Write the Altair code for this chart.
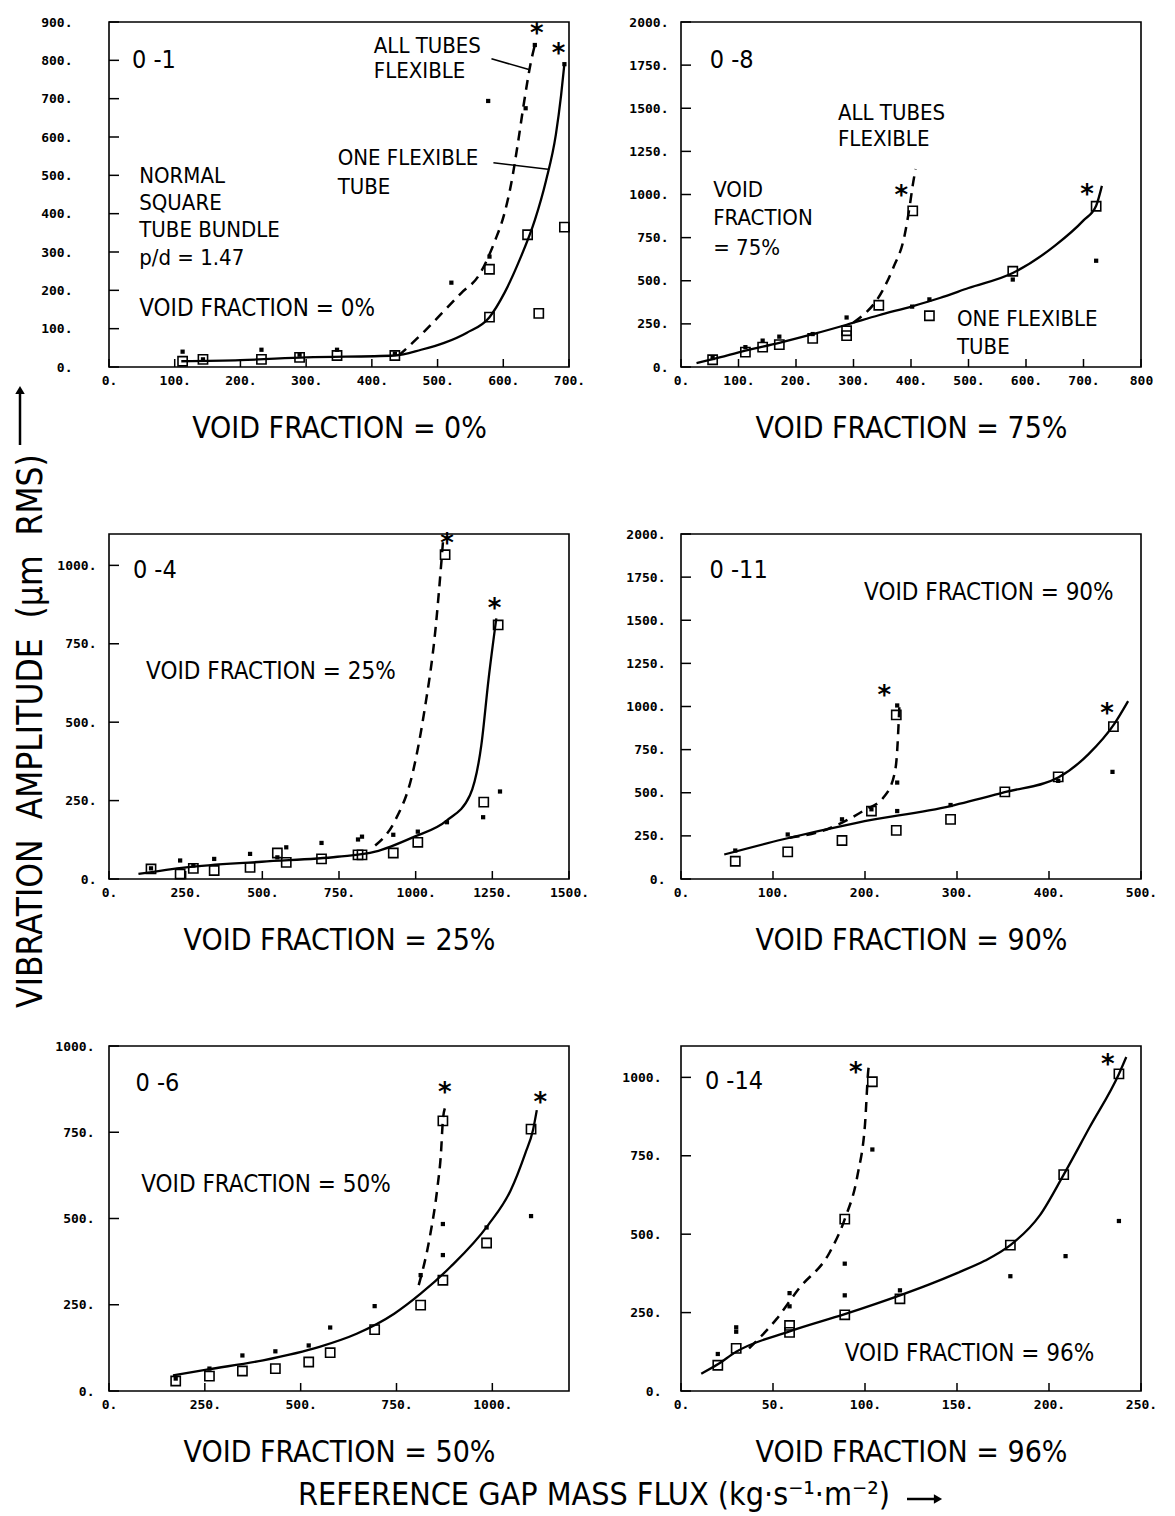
import altair as alt
import pandas as pd

NARROW = "Liberation Sans Narrow, DejaVu Sans Condensed, sans-serif"
MONO = "DejaVu Sans Mono"

Y_TITLE = "VIBRATION\u00a0\u00a0AMPLITUDE\u00a0\u00a0(µm\u00a0\u00a0RMS)"
X_TITLE = "REFERENCE GAP MASS FLUX (kg·s⁻¹·m⁻²)"

# ---------------- Panel 1 : 0-1, void fraction 0 % ----------------
P1_TITLE = "VOID FRACTION = 0%"
P1_XDOM = [0, 700]
P1_YDOM = [0, 900]
P1_XTICKS = [0, 100, 200, 300, 400, 500, 600, 700]
P1_YTICKS = [0, 100, 200, 300, 400, 500, 600, 700, 800, 900]
P1_SQ_X = [112, 143, 232, 290, 347, 435, 579, 579, 637, 654, 693]
P1_SQ_Y = [15, 20, 20, 25, 30, 30, 130, 255, 345, 140, 365]
P1_DOT_X = [112, 143, 232, 290, 347, 435, 521, 577, 579, 634, 648, 693]
P1_DOT_Y = [40, 20, 45, 32, 45, 35, 220, 694, 288, 675, 840, 790]
P1_SOLID_X = [110, 200, 300, 435, 475, 510, 544, 579, 602, 625, 648, 665, 680, 688, 693]
P1_SOLID_Y = [15, 18, 25, 30, 45, 63, 89, 130, 194, 280, 383, 486, 606, 709, 791]
P1_DASH_X = [441, 480, 507, 536, 562, 588, 601, 612, 622, 631, 642, 648]
P1_DASH_Y = [30, 93, 141, 193, 237, 332, 396, 478, 581, 684, 795, 840]
P1_STAR_X = [651, 684]
P1_STAR_Y = [885, 831]
P1_TEXT = ["0 -1", "ALL TUBES", "FLEXIBLE", "ONE FLEXIBLE", "TUBE", "NORMAL",
           "SQUARE", "TUBE BUNDLE", "p/d = 1.47", "VOID FRACTION = 0%"]
P1_TEXT_X = [35, 403, 403, 348, 348, 46, 46, 46, 46, 46]
P1_TEXT_Y = [800, 838, 771, 546, 469, 499, 428, 357, 285, 152]
P1_TEXT_S = [25, 22, 22, 22, 22, 22, 22, 22, 22, 24]
P1_LEAD_X = [582, 585]
P1_LEAD_Y = [804, 533]
P1_LEAD_X2 = [639, 668]
P1_LEAD_Y2 = [776, 516]

# ---------------- Panel 2 : 0-8, void fraction 75 % ----------------
P2_TITLE = "VOID FRACTION = 75%"
P2_XDOM = [0, 800]
P2_YDOM = [0, 2000]
P2_XTICKS = [0, 100, 200, 300, 400, 500, 600, 700, 800]
P2_YTICKS = [0, 250, 500, 750, 1000, 1250, 1500, 1750, 2000]
P2_SQ_X = [55, 112, 142, 171, 229, 288, 288, 344, 403, 432, 577, 722]
P2_SQ_Y = [42, 86, 115, 130, 166, 182, 210, 358, 905, 297, 555, 932]
P2_DOT_X = [55, 112, 142, 171, 229, 288, 402, 432, 577, 722]
P2_DOT_Y = [52, 115, 153, 176, 191, 287, 350, 392, 507, 616]
P2_SOLID_X = [27, 55, 112, 171, 229, 288, 344, 402, 450, 500, 577, 651, 700, 722, 732]
P2_SOLID_Y = [23, 45, 95, 140, 190, 245, 300, 352, 400, 458, 545, 705, 850, 935, 1050]
P2_DASH_X = [300, 350, 369, 389, 398, 403, 408]
P2_DASH_Y = [258, 440, 574, 765, 938, 1053, 1148]
P2_STAR_X = [383, 706]
P2_STAR_Y = [1024, 1034]
P2_TEXT = ["0 -8", "ALL TUBES", "FLEXIBLE", "VOID", "FRACTION", "= 75%",
           "ONE FLEXIBLE", "TUBE"]
P2_TEXT_X = [50, 273, 273, 56, 56, 56, 480, 480]
P2_TEXT_Y = [1780, 1474, 1321, 1024, 861, 689, 278, 115]
P2_TEXT_S = [25, 22, 22, 22, 22, 22, 22, 22]

# ---------------- Panel 3 : 0-4, void fraction 25 % ----------------
P3_TITLE = "VOID FRACTION = 25%"
P3_XDOM = [0, 1500]
P3_YDOM = [0, 1100]
P3_XTICKS = [0, 250, 500, 750, 1000, 1250, 1500]
P3_YTICKS = [0, 250, 500, 750, 1000]
P3_SQ_X = [137, 232, 275, 343, 460, 549, 578, 693, 812, 825, 927, 1007, 1222, 1269, 1096]
P3_SQ_Y = [32, 16, 34, 27, 37, 83, 53, 64, 77, 77, 83, 117, 245, 810, 1034]
P3_DOT_X = [137, 232, 275, 343, 460, 549, 578, 693, 812, 825, 927, 1007, 1102, 1220, 1275]
P3_DOT_Y = [34, 59, 43, 64, 80, 69, 101, 115, 126, 135, 141, 151, 181, 197, 279]
P3_SOLID_X = [96, 251, 498, 745, 868, 991, 1102, 1177, 1214, 1238, 1263]
P3_SOLID_Y = [16, 37, 55, 71, 87, 133, 187, 267, 426, 640, 831]
P3_DASH_X = [868, 930, 991, 1028, 1065, 1084, 1090]
P3_DASH_Y = [107, 181, 341, 533, 800, 1013, 1087]
P3_STAR_X = [1102, 1257]
P3_STAR_Y = [1087, 880]
P3_TEXT = ["0 -4", "VOID FRACTION = 25%"]
P3_TEXT_X = [78, 121]
P3_TEXT_Y = [986, 661]
P3_TEXT_S = [25, 24]

# ---------------- Panel 4 : 0-11, void fraction 90 % ----------------
P4_TITLE = "VOID FRACTION = 90%"
P4_XDOM = [0, 500]
P4_YDOM = [0, 2000]
P4_XTICKS = [0, 100, 200, 300, 400, 500]
P4_YTICKS = [0, 250, 500, 750, 1000, 1250, 1500, 1750, 2000]
P4_SQ_X = [59, 116, 175, 207, 234, 234, 293, 352, 410, 470]
P4_SQ_Y = [103, 157, 223, 394, 282, 951, 346, 505, 592, 883]
P4_DOT_X = [59, 116, 175, 207, 235, 235, 235, 293, 410, 469]
P4_DOT_Y = [165, 258, 346, 404, 559, 394, 1006, 429, 569, 621]
P4_SOLID_X = [47, 110, 191, 293, 353, 410, 443, 471, 486]
P4_SOLID_Y = [142, 229, 326, 423, 505, 588, 724, 899, 1031]
P4_DASH_X = [118, 151, 171, 199, 220, 232, 235, 236.5, 237.5]
P4_DASH_Y = [239, 274, 316, 398, 472, 608, 744, 899, 1016]
P4_STAR_X = [221, 463]
P4_STAR_Y = [1097, 990]
P4_TEXT = ["0 -11", "VOID FRACTION = 90%"]
P4_TEXT_X = [31, 199]
P4_TEXT_Y = [1792, 1656]
P4_TEXT_S = [25, 24]

# ---------------- Panel 5 : 0-6, void fraction 50 % ----------------
P5_TITLE = "VOID FRACTION = 50%"
P5_XDOM = [0, 1200]
P5_YDOM = [0, 1000]
P5_XTICKS = [0, 250, 500, 750, 1000]
P5_YTICKS = [0, 250, 500, 750, 1000]
P5_SQ_X = [174, 262, 348, 434, 521, 577, 693, 813, 871, 871, 985, 1101]
P5_SQ_Y = [29, 43, 58, 65, 84, 111, 178, 249, 321, 783, 429, 759]
P5_DOT_X = [174, 262, 348, 434, 521, 577, 693, 813, 871, 871, 985, 1101]
P5_DOT_Y = [36, 65, 103, 115, 132, 184, 246, 336, 394, 484, 474, 507]
P5_SOLID_X = [167, 255, 402, 549, 646, 744, 813, 891, 989, 1048, 1086, 1106, 1116]
P5_SOLID_Y = [45, 62, 89, 128, 166, 224, 282, 360, 481, 582, 689, 756, 814]
P5_DASH_X = [808, 837, 857, 866, 871, 876]
P5_DASH_Y = [307, 447, 592, 689, 785, 819]
P5_STAR_X = [876, 1125]
P5_STAR_Y = [882, 853]
P5_TEXT = ["0 -6", "VOID FRACTION = 50%"]
P5_TEXT_X = [69, 84]
P5_TEXT_Y = [892, 597]
P5_TEXT_S = [25, 24]

# ---------------- Panel 6 : 0-14, void fraction 96 % ----------------
P6_TITLE = "VOID FRACTION = 96%"
P6_XDOM = [0, 250]
P6_YDOM = [0, 1100]
P6_XTICKS = [0, 50, 100, 150, 200, 250]
P6_YTICKS = [0, 250, 500, 750, 1000]
P6_SQ_X = [20, 30, 59, 59, 89, 89, 104, 119, 179, 208, 238]
P6_SQ_Y = [82, 136, 187, 209, 243, 548, 986, 294, 465, 690, 1011]
P6_DOT_X = [20, 30, 30, 59, 59, 89, 89, 104, 119, 179, 209, 238]
P6_DOT_Y = [118, 189, 203, 270, 312, 305, 406, 770, 321, 366, 430, 542]
P6_SOLID_X = [11, 20, 30, 59, 89, 119, 135, 150, 165, 179, 195, 208, 222, 238, 242]
P6_SOLID_Y = [55, 85, 125, 190, 245, 305, 340, 376, 415, 465, 560, 690, 840, 1011, 1065]
P6_DASH_X = [37, 52, 64, 81, 89, 96, 100, 102, 103]
P6_DASH_Y = [136, 230, 326, 444, 548, 690, 850, 1032, 1048]
P6_STAR_X = [95, 232]
P6_STAR_Y = [1034, 1059]
P6_TEXT = ["0 -14", "VOID FRACTION = 96%"]
P6_TEXT_X = [13, 89]
P6_TEXT_Y = [989, 118]
P6_TEXT_S = [25, 24]

# ---------------- layout (pixels) ----------------
PW, PH = 460, 345          # plot area of every panel
COL_GAP, ROW_GAP = 112, 167
COL1_LEFT, ROW1_TOP = 107, 20
ROW2_TOP = ROW1_TOP + PH + ROW_GAP
ROW3_TOP = ROW2_TOP + PH + ROW_GAP


def df_xy(xs, ys):
    return pd.DataFrame({"x": xs, "y": ys})


def build_panel(title, xdom, ydom, xticks, yticks, sqx, sqy, dotx, doty,
                solx, soly, dashx, dashy, starx, stary, tt, tx, ty, ts,
                ypad, lead=None, extra=None, xlabel_expr="datum.value + '.'"):
    w, h = PW, PH
    xs = alt.Scale(domain=xdom, nice=False, zero=False)
    ys = alt.Scale(domain=ydom, nice=False, zero=False)
    xaxis = alt.Axis(values=xticks, labelExpr=xlabel_expr, grid=False,
                     ticks=False, domain=False, labelFont=MONO, labelFontSize=13,
                     labelFontWeight="bold", labelColor="black", labelPadding=7,
                     labelFlush=False, labelOverlap=False,
                     title=title, titleFont=NARROW, titleFontSize=30,
                     titleFontWeight="normal", titleColor="black", titlePadding=26)
    yaxis = alt.Axis(values=yticks, labelExpr="datum.value + '.'", grid=False,
                     ticks=False, domain=False, labelFont=MONO, labelFontSize=13,
                     labelFontWeight="bold", labelColor="black", labelPadding=ypad,
                     labelFlush=False, labelOverlap=False, title="")
    X = alt.X("x:Q", scale=xs, axis=xaxis)
    Y = alt.Y("y:Q", scale=ys, axis=yaxis)

    layers = []
    layers.append(alt.Chart(pd.DataFrame({"y": yticks})).mark_rule(
        color="black", strokeWidth=1.5).encode(y=Y, x=alt.value(0), x2=alt.value(10)))
    layers.append(alt.Chart(pd.DataFrame({"x": xticks})).mark_rule(
        color="black", strokeWidth=1.5).encode(x=X, y=alt.value(h), y2=alt.value(h - 8)))
    layers.append(alt.Chart(df_xy(solx, soly)).mark_line(
        color="black", strokeWidth=2.3, interpolate="monotone").encode(x=X, y=Y))
    layers.append(alt.Chart(df_xy(dashx, dashy)).mark_line(
        color="black", strokeWidth=2.5, strokeDash=[10, 7],
        interpolate="monotone").encode(x=X, y=Y))
    layers.append(alt.Chart(df_xy(sqx, sqy)).mark_point(
        shape="square", filled=False, size=85, strokeWidth=1.6, color="black",
        opacity=1).encode(x=X, y=Y))
    layers.append(alt.Chart(df_xy(dotx, doty)).mark_point(
        shape="square", filled=True, size=18, color="black", opacity=1).encode(x=X, y=Y))
    layers.append(alt.Chart(df_xy(starx, stary)).mark_text(
        text="*", font="DejaVu Sans", fontSize=26, fontWeight="bold", color="black",
        baseline="middle", dy=6).encode(x=X, y=Y))
    tdf = pd.DataFrame({"x": tx, "y": ty, "t": tt, "s": ts})
    layers.append(alt.Chart(tdf).mark_text(
        align="left", baseline="middle", font=NARROW, color="black").encode(
        x=X, y=Y, text="t:N", size=alt.Size("s:Q", scale=None, legend=None)))
    if lead is not None:
        ldf = pd.DataFrame({"x": lead[0], "y": lead[1], "x2": lead[2], "y2": lead[3]})
        layers.append(alt.Chart(ldf).mark_rule(color="black", strokeWidth=1.5).encode(
            x=X, y=Y, x2="x2:Q", y2="y2:Q"))
    if extra is not None:
        layers.extend(extra)
    return alt.layer(*layers).properties(
        width=w, height=h,
        view=alt.ViewBackground(stroke="black", strokeWidth=1.6))


# page anchor (top-left corner of the page) placed in panel 1
anchor = alt.Chart(pd.DataFrame({"a": [0]})).mark_point(
    opacity=0, size=1).encode(x=alt.value(-COL1_LEFT), y=alt.value(-ROW1_TOP))

# left title, drawn relative to panel 3 (column 1, row 2)
ldf = pd.DataFrame({"t": [Y_TITLE]})
left_title = [
    alt.Chart(ldf).mark_text(angle=270, font=NARROW, fontSize=35, color="black",
                             align="center", baseline="middle").encode(
        text="t:N", x=alt.value(29 - COL1_LEFT), y=alt.value(729 - ROW2_TOP)),
    alt.Chart(ldf).mark_rule(color="black", strokeWidth=2.5).encode(
        x=alt.value(18 - COL1_LEFT), y=alt.value(392 - ROW2_TOP),
        y2=alt.value(443 - ROW2_TOP)),
    alt.Chart(ldf).mark_point(shape="triangle-up", filled=True, size=90,
                              color="black", opacity=1).encode(
        x=alt.value(18 - COL1_LEFT), y=alt.value(388 - ROW2_TOP)),
]

# bottom title, drawn relative to panel 5 (column 1, row 3)
bdf = pd.DataFrame({"t": [X_TITLE]})
bottom_title = [
    alt.Chart(bdf).mark_text(font=NARROW, fontSize=32, color="black", align="center",
                             baseline="middle").encode(
        text="t:N", x=alt.value(592 - COL1_LEFT), y=alt.value(1493 - ROW3_TOP)),
    alt.Chart(bdf).mark_rule(color="black", strokeWidth=2.5).encode(
        x=alt.value(905 - COL1_LEFT), x2=alt.value(932 - COL1_LEFT),
        y=alt.value(1497 - ROW3_TOP)),
    alt.Chart(bdf).mark_point(shape="triangle-right", filled=True, size=90,
                              color="black", opacity=1).encode(
        x=alt.value(936 - COL1_LEFT), y=alt.value(1497 - ROW3_TOP)),
]

p1 = build_panel(P1_TITLE, P1_XDOM, P1_YDOM, P1_XTICKS, P1_YTICKS, P1_SQ_X, P1_SQ_Y,
                 P1_DOT_X, P1_DOT_Y, P1_SOLID_X, P1_SOLID_Y, P1_DASH_X, P1_DASH_Y,
                 P1_STAR_X, P1_STAR_Y, P1_TEXT, P1_TEXT_X, P1_TEXT_Y, P1_TEXT_S,
                 37, lead=(P1_LEAD_X, P1_LEAD_Y, P1_LEAD_X2, P1_LEAD_Y2),
                 extra=[anchor])
p2 = build_panel(P2_TITLE, P2_XDOM, P2_YDOM, P2_XTICKS, P2_YTICKS, P2_SQ_X, P2_SQ_Y,
                 P2_DOT_X, P2_DOT_Y, P2_SOLID_X, P2_SOLID_Y, P2_DASH_X, P2_DASH_Y,
                 P2_STAR_X, P2_STAR_Y, P2_TEXT, P2_TEXT_X, P2_TEXT_Y, P2_TEXT_S,
                 13, xlabel_expr="datum.value == 800 ? '800' : datum.value + '.'")
p3 = build_panel(P3_TITLE, P3_XDOM, P3_YDOM, P3_XTICKS, P3_YTICKS, P3_SQ_X, P3_SQ_Y,
                 P3_DOT_X, P3_DOT_Y, P3_SOLID_X, P3_SOLID_Y, P3_DASH_X, P3_DASH_Y,
                 P3_STAR_X, P3_STAR_Y, P3_TEXT, P3_TEXT_X, P3_TEXT_Y, P3_TEXT_S,
                 13, extra=left_title)
p4 = build_panel(P4_TITLE, P4_XDOM, P4_YDOM, P4_XTICKS, P4_YTICKS, P4_SQ_X, P4_SQ_Y,
                 P4_DOT_X, P4_DOT_Y, P4_SOLID_X, P4_SOLID_Y, P4_DASH_X, P4_DASH_Y,
                 P4_STAR_X, P4_STAR_Y, P4_TEXT, P4_TEXT_X, P4_TEXT_Y, P4_TEXT_S,
                 16)
p5 = build_panel(P5_TITLE, P5_XDOM, P5_YDOM, P5_XTICKS, P5_YTICKS, P5_SQ_X, P5_SQ_Y,
                 P5_DOT_X, P5_DOT_Y, P5_SOLID_X, P5_SOLID_Y, P5_DASH_X, P5_DASH_Y,
                 P5_STAR_X, P5_STAR_Y, P5_TEXT, P5_TEXT_X, P5_TEXT_Y, P5_TEXT_S,
                 15, extra=bottom_title)
p6 = build_panel(P6_TITLE, P6_XDOM, P6_YDOM, P6_XTICKS, P6_YTICKS, P6_SQ_X, P6_SQ_Y,
                 P6_DOT_X, P6_DOT_Y, P6_SOLID_X, P6_SOLID_Y, P6_DASH_X, P6_DASH_Y,
                 P6_STAR_X, P6_STAR_Y, P6_TEXT, P6_TEXT_X, P6_TEXT_Y, P6_TEXT_S,
                 20)

chart = alt.concat(p1, p2, p3, p4, p5, p6, columns=2, bounds="flush",
                   spacing={"row": ROW_GAP, "column": COL_GAP}).properties(
    padding=0, background="white"
).configure_view(stroke="transparent").configure(font=NARROW)

chart.save("out.html", embed_options={"renderer": "svg", "actions": False})
